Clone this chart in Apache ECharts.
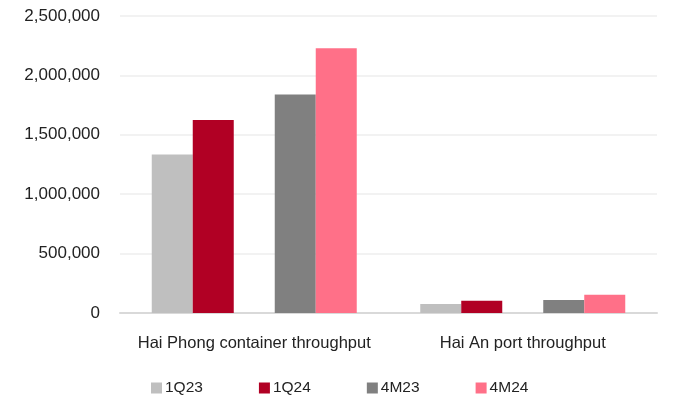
<!DOCTYPE html>
<html>
<head>
<meta charset="utf-8">
<script src="https://cdn.jsdelivr.net/npm/echarts@6/dist/echarts.min.js"></script>
<style>
  html, body { margin: 0; padding: 0; background: #fff; }
  #chart { width: 689px; height: 402px; }
</style>
</head>
<body>
<div id="chart"></div>
<script>
// data
const categories = ["Hai Phong container throughput", "Hai An port throughput"];
const q123 = [1335000, 76000];
const q124 = [1625000, 104000];
const m423 = [1840000, 110000];
const m424 = [2228000, 154000];
const seriesNames = ["1Q23", "1Q24", "4M23", "4M24"];
const colors = ["#bfbfbf", "#b10024", "#808080", "#ff7088"];

const chart = echarts.init(document.getElementById("chart"));

const bar = (name, data, color) => ({
  name: name,
  type: "bar",
  data: data,
  barWidth: 41,
  barGap: "0%",
  itemStyle: { color: color },
});

chart.setOption({
  animation: false,
  textStyle: { fontFamily: "Liberation Sans", color: "#222" },
  grid: { left: 120, right: 32, top: 16, bottom: 89 },
  legend: {
    data: seriesNames,
    left: 146,
    top: 375,
    itemWidth: 11,
    itemHeight: 11,
    itemGap: 56,
    icon: "rect",
    textStyle: { fontSize: 15.5, color: "#222", padding: [0, 0, 0, -2] },
  },
  xAxis: {
    type: "category",
    data: categories,
    axisLine: { lineStyle: { color: "#d9d9d9", width: 2 } },
    axisTick: { show: false },
    axisLabel: { interval: 0, fontSize: 16.5, color: "#222", margin: 22 },
  },
  yAxis: {
    type: "value",
    min: 0,
    max: 2500000,
    interval: 500000,
    axisLine: { show: false },
    axisTick: { show: false },
    splitLine: { lineStyle: { color: "#eeeeee", width: 1.5 } },
    axisLabel: {
      fontSize: 17,
      color: "#222",
      margin: 20,
      formatter: (v) => v.toLocaleString("en-US"),
    },
  },
  series: [
    bar("1Q23", q123, colors[0]),
    bar("1Q24", q124, colors[1]),
    // empty spacer keeps the gap between the quarter pair and the 4-month pair
    { name: "spacer", type: "bar", data: [null, null], barWidth: 41, silent: true },
    bar("4M23", m423, colors[2]),
    bar("4M24", m424, colors[3]),
  ],
});
</script>
</body>
</html>
